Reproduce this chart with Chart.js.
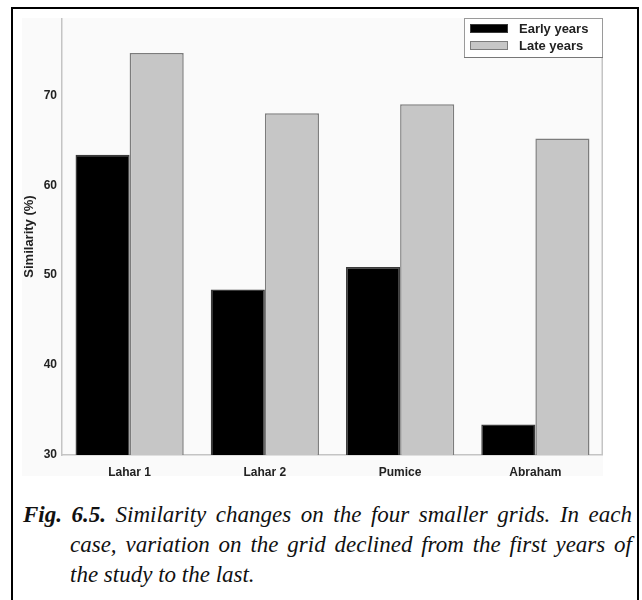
<!DOCTYPE html>
<html>
<head>
<meta charset="utf-8">
<script src="https://cdn.jsdelivr.net/npm/chart.js@4"></script>
<style>
  html, body { margin: 0; padding: 0; background: #fff; }
  body { width: 642px; height: 600px; position: relative; overflow: hidden; }
  .frame {
    position: absolute; left: 11px; top: 7px; width: 628px; height: 620px;
    box-sizing: border-box; border: 2px solid #000;
  }
  .panel {
    position: absolute; left: 22px; top: 18px; width: 581px; height: 458px;
    background: #fafafa;
  }
  .plot { position: absolute; left: 22px; top: 18px; width: 581px; height: 466px; }
  .caption {
    position: absolute; left: 23px; top: 500px; width: 609px;
    font-family: "Liberation Serif", "Times New Roman", Times, serif;
    font-style: italic; font-size: 23px; line-height: 30px; color: #111;
  }
  .caption .line { display: block; text-align: justify; text-align-last: justify; white-space: nowrap; }
  .caption .line.indent { padding-left: 47px; }
  .caption .line.last { text-align: left; text-align-last: left; }
</style>
</head>
<body>
<div class="frame"></div>
<div class="panel"></div>
<div class="plot"><canvas id="chart"></canvas></div>
<div class="caption">
  <span class="line"><b>Fig. 6.5.</b> Similarity changes on the four smaller grids. In each</span>
  <span class="line indent">case, variation on the grid declined from the first years of</span>
  <span class="line indent last">the study to the last.</span>
</div>
<script>
// values
const categories = ["Lahar 1", "Lahar 2", "Pumice", "Abraham"];
const seriesNames = ["Early years", "Late years"];
const earlyYears = [63.4, 48.4, 50.9, 33.4];
const lateYears = [74.7, 68.0, 69.0, 65.2];
const yTicks = [30, 40, 50, 60, 70];
const yTitle = "Similarity (%)";

const sans = "'Liberation Sans', Arial, sans-serif";

// legend sits inside the plot, top right, plus the light right edge of the plot
const insideLegend = {
  id: "insideLegend",
  afterDraw(chart) {
    const { ctx, chartArea } = chart;
    ctx.save();
    ctx.strokeStyle = "#c4c4c4";
    ctx.lineWidth = 1.5;
    ctx.beginPath();
    ctx.moveTo(chartArea.right - 0.75, chartArea.top);
    ctx.lineTo(chartArea.right - 0.75, chartArea.bottom);
    ctx.stroke();

    const w = 139, h = 40;
    const x = chartArea.right - w, y = chartArea.top;
    ctx.fillStyle = "#fff";
    ctx.fillRect(x, y, w, h);
    ctx.strokeStyle = "#9a9a9a";
    ctx.lineWidth = 1;
    ctx.strokeRect(x + 0.5, y + 0.5, w - 1, h - 1);
    ctx.strokeStyle = "#777";
    ctx.beginPath();
    ctx.moveTo(x, y + h - 0.5);
    ctx.lineTo(x + w, y + h - 0.5);
    ctx.stroke();

    chart.data.datasets.forEach((ds, i) => {
      const ry = y + 6 + i * 17;
      ctx.fillStyle = ds.backgroundColor;
      ctx.fillRect(x + 6, ry, 38, 9);
      ctx.strokeStyle = ds.borderColor;
      ctx.lineWidth = 1;
      ctx.strokeRect(x + 6.5, ry + 0.5, 37, 8);
      ctx.fillStyle = "#222";
      ctx.font = "bold 13px " + sans;
      ctx.textBaseline = "middle";
      ctx.fillText(ds.label, x + 55, ry + 5);
    });
    ctx.restore();
  }
};

new Chart(document.getElementById("chart"), {
  type: "bar",
  data: {
    labels: categories,
    datasets: [
      {
        label: seriesNames[0],
        data: earlyYears,
        backgroundColor: "#000000",
        borderColor: "#3a3a3a",
        borderWidth: 1.5,
        categoryPercentage: 0.8,
        barPercentage: 1.0,
      },
      {
        label: seriesNames[1],
        data: lateYears,
        backgroundColor: "#c6c6c6",
        borderColor: "#7c7c7c",
        borderWidth: 1.5,
        categoryPercentage: 0.8,
        barPercentage: 1.0,
      },
    ],
  },
  options: {
    responsive: true,
    maintainAspectRatio: false,
    animation: false,
    layout: { padding: 0 },
    plugins: {
      legend: { display: false },
      tooltip: { enabled: false },
    },
    scales: {
      x: {
        grid: { display: false, drawTicks: false },
        border: { color: "#c4c4c4", width: 1.5 },
        ticks: { font: { family: sans, size: 12, weight: "bold" }, color: "#222", padding: 10 },
        afterFit(s) { s.height = 29; s.paddingLeft = 0; s.paddingRight = 0; },
      },
      y: {
        min: 30,
        max: 78.6,
        grid: { display: false, drawTicks: false },
        border: { color: "#c4c4c4", width: 1.5 },
        ticks: { font: { family: sans, size: 12, weight: "bold" }, color: "#222", padding: 5 },
        afterBuildTicks(s) { s.ticks = yTicks.map((v) => ({ value: v })); },
        title: {
          display: true,
          text: yTitle,
          font: { family: sans, size: 13, weight: "bold" },
          color: "#222",
          padding: 0,
        },
        afterFit(s) { s.width = 40; s.paddingTop = 0; s.paddingBottom = 0; },
      },
    },
  },
  plugins: [insideLegend],
});
</script>
</body>
</html>
